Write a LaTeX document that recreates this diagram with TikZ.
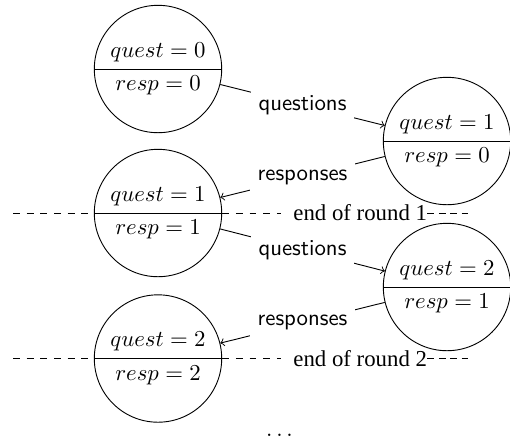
\documentclass[tikz,border=0pt]{standalone}
\usepackage{fontspec}
\setmainfont{Liberation Serif}
\usetikzlibrary{shapes.multipart}
\begin{document}
\begin{tikzpicture}[x=0.4389pt,y=-0.4389pt,
  state/.style={circle split, draw, minimum size=53.6pt, inner sep=3pt},
  msg/.style={fill=white, font=\sffamily, inner sep=3.33pt},
  flow/.style={->},
  roundline/.style={dashed},
  roundtail/.style={densely dashed},
  roundlabel/.style={anchor=west, inner xsep=0pt}]
\useasboundingbox (0,0) rectangle (510,444);

% states of the two parties
\node[state] (s0) at (158,69)    {$quest=0$ \nodepart{lower} $resp=0$};
\node[state] (s1) at (447,141)   {$quest=1$ \nodepart{lower} $resp=0$};
\node[state] (s2) at (158,213)   {$quest=1$ \nodepart{lower} $resp=1$};
\node[state] (s3) at (447,287)   {$quest=2$ \nodepart{lower} $resp=1$};
\node[state] (s4) at (158,358.5) {$quest=2$ \nodepart{lower} $resp=2$};

% messages exchanged
\draw[flow] (s0) -- node[msg] {questions} (s1);
\draw[flow] (s1) -- node[msg] {responses} (s2);
\draw[flow] (s2) -- node[msg] {questions} (s3);
\draw[flow] (s3) -- node[msg] {responses} (s4);

% round boundaries
\node[roundlabel] (r1) at (293,213)   {end of round 1};
\node[roundlabel] (r2) at (293,358.5) {end of round 2};
\coordinate (r1a) at (13,213);
\coordinate (r1b) at (281,213);
\coordinate (r1c) at (468,213);
\coordinate (r2a) at (13,358.5);
\coordinate (r2b) at (281,358.5);
\coordinate (r2c) at (468,358.5);
\draw[roundline] (r1a) -- (s2.west);
\draw[roundline] (s2.east) -- (r1b);
\draw[roundtail] (r1.east) -- (r1c);
\draw[roundline] (r2a) -- (s4.west);
\draw[roundline] (s4.east) -- (r2b);
\draw[roundtail] (r2.east) -- (r2c);

\node (more) at (279.5,435) {$\dots$};
\end{tikzpicture}
\end{document}
